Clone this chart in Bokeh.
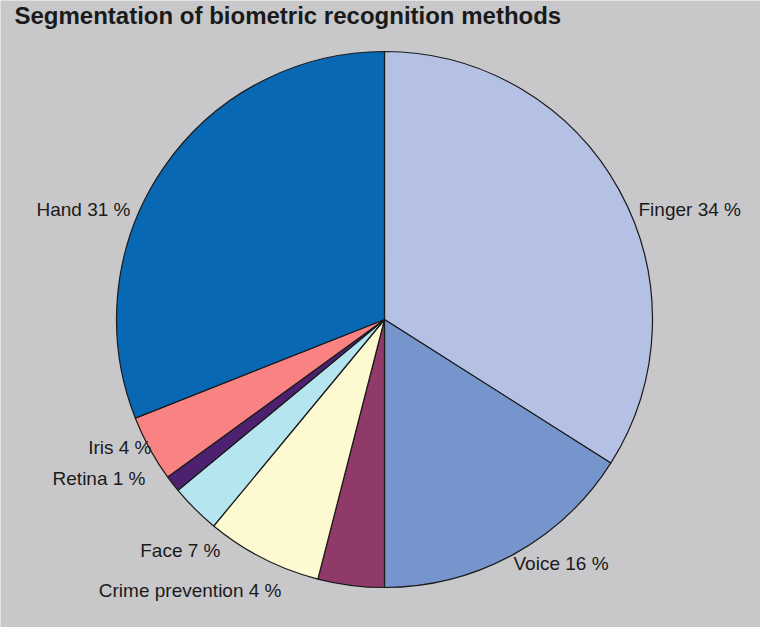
import math
from bokeh.plotting import figure
from bokeh.models import Range1d, ColumnDataSource
from bokeh.core.properties import value
from bokeh.embed import file_html
from bokeh.resources import INLINE

# ---- data (clockwise from 12 o'clock) ----
categories = ["Finger", "Voice", "Crime prevention", "Face", "", "Retina", "Iris", "Hand"]
percent = [34, 16, 4, 7, 3, 1, 4, 31]
colors = ["#b4c1e4", "#7595cc", "#8f3a68", "#fdf9d0", "#b5e5ef", "#4d2170", "#f98383", "#0868b3"]
label_text = ["Finger 34 %", "Voice 16 %", "Crime prevention 4 %", "Face 7 %", "", "Retina 1 %", "Iris 4 %", "Hand 31 %"]

# ---- layout (image pixel coordinates of label anchors) ----
W, H = 760, 627
label_x_img = [646, 521, 289, 228, 0, 153, 159, 138]
label_y_img = [219, 573, 600, 560, 0, 488, 457, 219]
label_align = ["left", "left", "right", "right", "left", "right", "right", "right"]
cx_img, cy_img, radius = 392, 329, 268

def dx(x): return x - 8
def dy(y): return 637 - y

p = figure(width=W, height=H, output_backend="svg", toolbar_location=None,
           x_range=Range1d(0, W), y_range=Range1d(0, H), min_border=0,
           background_fill_color="#c8c8ca", border_fill_color="#c8c8ca")
p.axis.visible = False
p.grid.visible = False
p.outline_line_color = None

total = float(sum(percent))
starts, ends = [], []
cum = 0.0
for v in percent:
    a0 = math.pi / 2 - (cum + v) / total * 2 * math.pi
    a1 = math.pi / 2 - cum / total * 2 * math.pi
    starts.append(a0)
    ends.append(a1)
    cum += v

src = ColumnDataSource(dict(start=starts, end=ends, color=colors, cat=categories, val=percent))
p.wedge(x=dx(cx_img), y=dy(cy_img), radius=radius, start_angle="start", end_angle="end",
        fill_color="color", line_color="#1a1a1a", line_width=1.2, source=src)

for t, x, y, al in zip(label_text, label_x_img, label_y_img, label_align):
    if not t:
        continue
    p.text(x=[dx(x)], y=[dy(y)], text=[t], text_align=al, text_baseline="middle",
           text_font=value("Liberation Sans"), text_font_size="19px", text_color="#1a1a1a")

p.text(x=[dx(22)], y=[dy(25)], text=["Segmentation of biometric recognition methods"],
       text_align="left", text_baseline="middle", text_font=value("Liberation Sans"),
       text_font_style="bold", text_font_size="24px", text_color="#1a1a1a")

open("out.html", "w").write(file_html(p, INLINE))
